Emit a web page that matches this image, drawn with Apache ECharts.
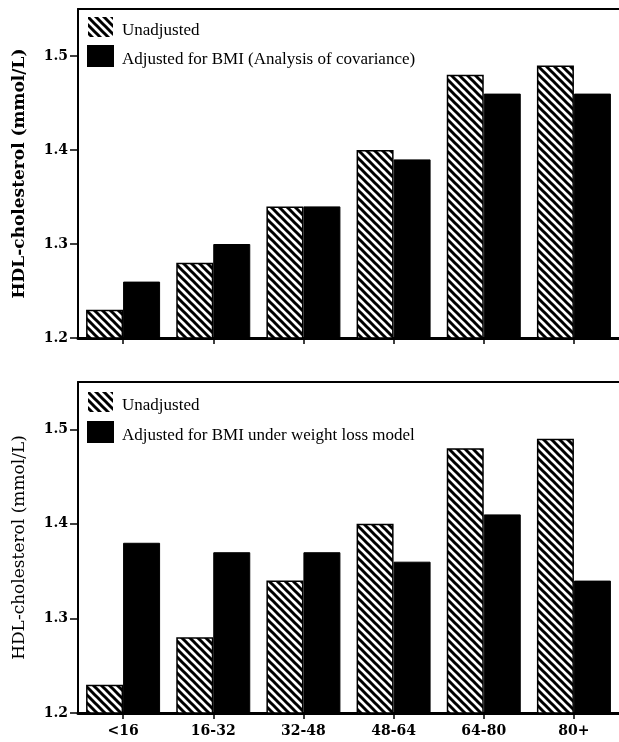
<!DOCTYPE html>
<html>
<head>
<meta charset="utf-8">
<script src="https://cdn.jsdelivr.net/npm/echarts@6/dist/echarts.min.js"></script>
<style>html,body{margin:0;padding:0;background:#fff;}#c{width:619px;height:742px;}</style>
</head>
<body>
<div id="c"></div>
<script>
const categories = ['<16', '16-32', '32-48', '48-64', '64-80', '80+'];
const topUnadjusted = [1.23, 1.28, 1.34, 1.40, 1.48, 1.49];
const topAdjusted = [1.26, 1.30, 1.34, 1.39, 1.46, 1.46];
const bottomUnadjusted = [1.23, 1.28, 1.34, 1.40, 1.48, 1.49];
const bottomAdjusted = [1.38, 1.37, 1.37, 1.36, 1.41, 1.34];
const yTicks = [1.2, 1.3, 1.4, 1.5];
const nameUnadj = 'Unadjusted';
const nameTopAdj = 'Adjusted for BMI (Analysis of covariance)';
const nameBotAdj = 'Adjusted for BMI under weight loss model';
const yName = 'HDL-cholesterol (mmol/L)';

// hatch pattern
const P = 8;
const cv = document.createElement('canvas');
cv.width = P; cv.height = P;
const cx = cv.getContext('2d');
cx.fillStyle = '#fff'; cx.fillRect(0, 0, P, P);
cx.strokeStyle = '#000'; cx.lineWidth = 3;
[-P, 0, P].forEach(c => { cx.beginPath(); cx.moveTo(-2, -2 + c); cx.lineTo(P + 2, P + 2 + c); cx.stroke(); });
const hatch = { image: cv, repeat: 'repeat' };

const serifB = 'DejaVu Serif';
const legendFont = 'Liberation Serif';

const chart = echarts.init(document.getElementById('c'), null, { renderer: 'canvas' });

function yAxis(gi, bold) {
  return {
    gridIndex: gi, type: 'value', min: 1.2, max: 1.55, interval: 0.1,
    name: yName, nameLocation: 'middle', nameGap: 50, nameRotate: 90,
    nameTextStyle: { fontFamily: serifB, fontWeight: bold ? 'bold' : 'normal', fontSize: 17, color: '#000' },
    axisLine: { show: true, lineStyle: { color: '#000', width: 2 } },
    axisTick: { show: true, length: 8, lineStyle: { color: '#000', width: 1.5 }, customValues: yTicks },
    axisLabel: { color: '#000', fontFamily: serifB, fontWeight: 'bold', fontSize: 14, margin: 10,
      customValues: yTicks, formatter: v => v.toFixed(1) },
    splitLine: { show: false }
  };
}
function xAxis(gi, labels) {
  return {
    gridIndex: gi, type: 'category', data: categories, position: 'bottom',
    axisLine: { show: true, lineStyle: { color: '#000', width: 3 } },
    axisTick: { show: true, alignWithLabel: true, length: 6, lineStyle: { color: '#000', width: 1.5 } },
    axisLabel: { show: labels, color: '#000', fontFamily: serifB, fontWeight: 'bold', fontSize: 14, margin: 11 }
  };
}
function topFrame(gi) {
  return {
    gridIndex: gi, type: 'category', data: categories, position: 'top',
    axisLine: { show: true, lineStyle: { color: '#000', width: 2 } },
    axisTick: { show: false }, axisLabel: { show: false }
  };
}
function legend(top, adjName, gap) {
  return {
    orient: 'vertical', left: 87, top: top, padding: 0, itemWidth: 25, itemHeight: 20, itemGap: gap,
    icon: 'rect', selectedMode: false,
    formatter: name => '{t|' + name + '}',
    textStyle: {
      fontFamily: legendFont, fontSize: 17, color: '#000',
      rich: { t: { fontFamily: legendFont, fontSize: 17, color: '#000', padding: [7, 0, 0, 4] } }
    },
    data: [{ name: nameUnadj, itemStyle: { borderWidth: 0 } }, { name: adjName }]
  };
}
const hatchStyle = { color: hatch, borderColor: '#000', borderWidth: 1.5 };
const blackStyle = { color: '#000', borderColor: '#000', borderWidth: 1 };

chart.setOption({
  animation: false,
  grid: [
    { left: 78, right: 0, top: 9, height: 329 },
    { left: 78, right: 0, top: 382, height: 331 }
  ],
  legend: [legend(17, nameTopAdj, 6), legend(392, nameBotAdj, 7)],
  xAxis: [xAxis(0, false), xAxis(1, true), topFrame(0), topFrame(1)],
  yAxis: [yAxis(0, true), yAxis(1, false)],
  series: [
    { type: 'bar', name: nameUnadj, xAxisIndex: 0, yAxisIndex: 0, data: topUnadjusted, barWidth: 37, barGap: '0%', itemStyle: hatchStyle },
    { type: 'bar', name: nameTopAdj, xAxisIndex: 0, yAxisIndex: 0, data: topAdjusted, barWidth: 37, barGap: '0%', itemStyle: blackStyle },
    { type: 'bar', name: nameUnadj, xAxisIndex: 1, yAxisIndex: 1, data: bottomUnadjusted, barWidth: 37, barGap: '0%', itemStyle: hatchStyle },
    { type: 'bar', name: nameBotAdj, xAxisIndex: 1, yAxisIndex: 1, data: bottomAdjusted, barWidth: 37, barGap: '0%', itemStyle: blackStyle }
  ]
});
</script>
</body>
</html>
